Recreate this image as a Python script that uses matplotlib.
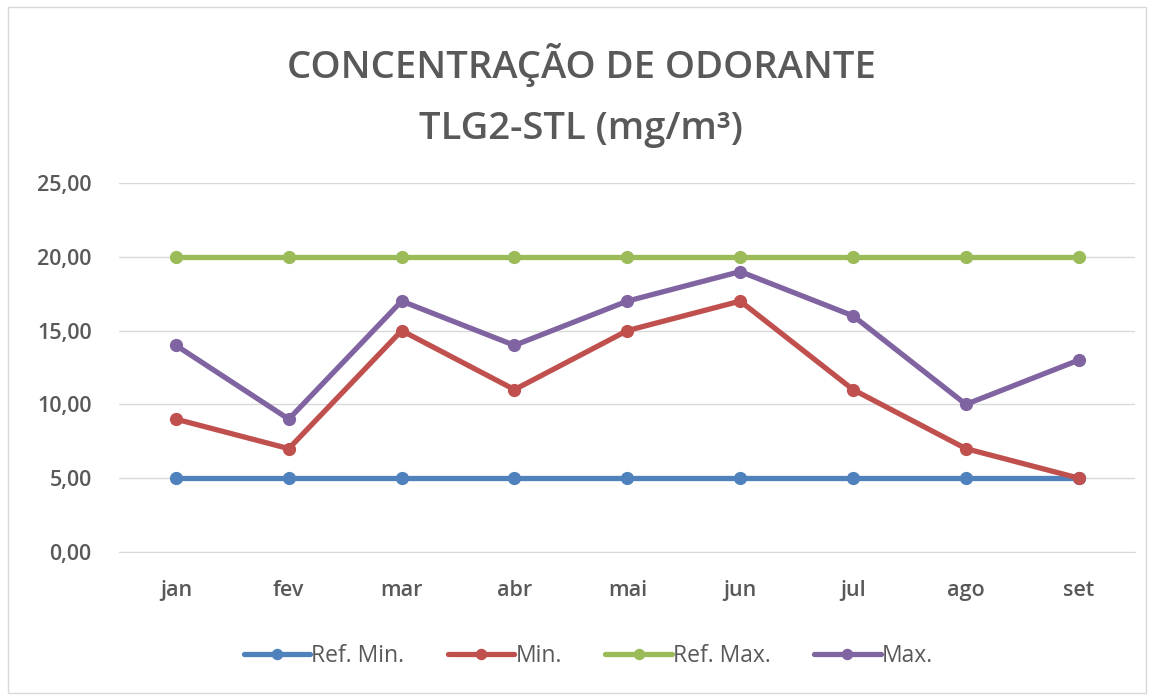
import matplotlib
matplotlib.use("Agg")
import matplotlib.pyplot as plt
from matplotlib.patches import Rectangle
from matplotlib.ticker import FuncFormatter

months = ["jan", "fev", "mar", "abr", "mai", "jun", "jul", "ago", "set"]
ref_min = [5, 5, 5, 5, 5, 5, 5, 5, 5]
min_vals = [9, 7, 15, 11, 15, 17, 11, 7, 5]
ref_max = [20, 20, 20, 20, 20, 20, 20, 20, 20]
max_vals = [14, 9, 17, 14, 17, 19, 16, 10, 13]

series = [
    ("Ref. Min.", ref_min, "#4F81BD"),
    ("Min.", min_vals, "#C0504D"),
    ("Ref. Max.", ref_max, "#9BBB59"),
    ("Max.", max_vals, "#8064A2"),
]

plt.rcParams["font.family"] = ["Open Sans", "DejaVu Sans"]
text_color = "#595959"

fig = plt.figure(figsize=(11.49, 6.96), dpi=100)
fig.patches.append(Rectangle((0.007, 0.005), 0.99, 0.985, transform=fig.transFigure,
                             fill=False, edgecolor="#D9D9D9", linewidth=1))

ax = fig.add_axes([0.104, 0.207, 0.884, 0.530])
x = range(len(months))
for label, vals, color in series:
    ax.plot(x, vals, color=color, linewidth=3.8, marker="o", markersize=8.5,
            label=label, solid_capstyle="round")

ax.set_xlim(-0.5, len(months) - 0.5)
ax.set_ylim(0, 25)
ax.set_yticks([0, 5, 10, 15, 20, 25])
ax.yaxis.set_major_formatter(FuncFormatter(lambda v, p: f"{v:.2f}".replace(".", ",")))
ax.set_xticks(list(x))
ax.set_xticklabels(months)
ax.grid(axis="y", color="#D9D9D9", linewidth=1)
ax.set_axisbelow(True)
for s in ["top", "right", "left"]:
    ax.spines[s].set_visible(False)
ax.spines["bottom"].set_color("#D9D9D9")
ax.tick_params(axis="both", length=0, colors=text_color, labelsize=15.5)
ax.tick_params(axis="y", pad=20)
ax.tick_params(axis="x", pad=20)
for lbl in ax.get_xticklabels() + ax.get_yticklabels():
    lbl.set_fontweight("semibold")

fig.text(0.506, 0.907, "CONCENTRAÇÃO DE ODORANTE", ha="center", va="center",
         fontsize=27.5, color=text_color, fontweight="semibold")
fig.text(0.506, 0.815, "TLG2-STL (mg/m³)", ha="center", va="center",
         fontsize=27.5, color=text_color, fontweight="semibold")

leg = fig.legend(loc="center", bbox_to_anchor=(0.512, 0.058), ncol=4, frameon=False,
                 fontsize=16.5, handlelength=2.9, handletextpad=0.05, columnspacing=1.9,
                 markerscale=0.85)
for t in leg.get_texts():
    t.set_color(text_color)

fig.savefig("out.png", dpi=100, facecolor="white")
